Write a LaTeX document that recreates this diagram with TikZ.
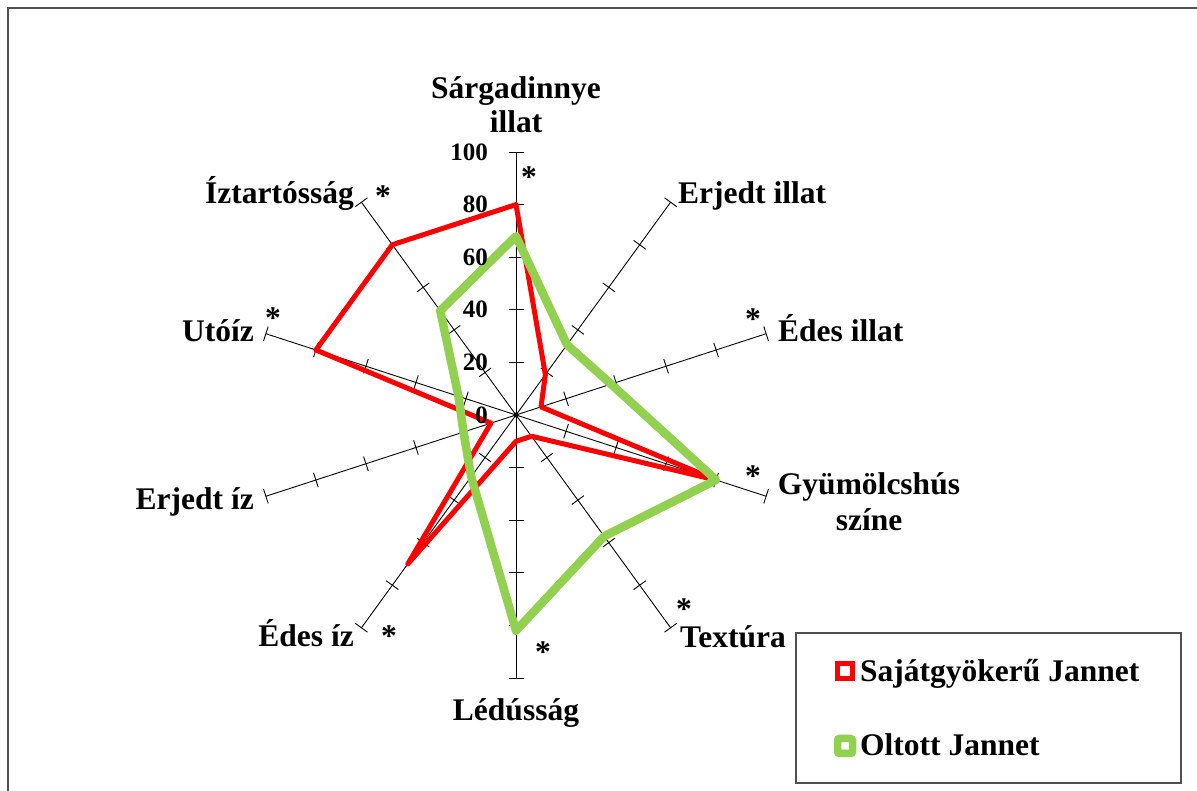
\documentclass[tikz,border=0pt]{standalone}
\usepackage{fontspec}
\setmainfont{Liberation Serif}
\definecolor{serA}{RGB}{255,0,0}
\definecolor{serB}{RGB}{146,208,80}
\definecolor{frameGray}{RGB}{80,80,80}
\begin{document}
\begin{tikzpicture}[x=1pt,y=1pt,
  axisline/.style={line width=0.9pt, black},
  tck/.style={line width=0.9pt, black},
  lbl/.style={font=\fontsize{31.5}{36}\selectfont\bfseries, inner sep=0pt},
  num/.style={font=\fontsize{25}{28}\selectfont\bfseries, inner sep=0pt, anchor=east},
  star/.style={font=\fontsize{31.5}{36}\selectfont\bfseries, inner sep=0pt, anchor=base},
  serieA/.style={serA, line width=5pt, line join=round},
  serieB/.style={serB, line width=8.5pt, line join=round},
]
\useasboundingbox (0,0) rectangle (1197,791);
\fill[white] (0,0) rectangle (1197,791);
\draw[line width=2pt, frameGray] (8,0) -- (8,782.5) -- (1197,782.5);
\coordinate (O) at (516,376);
\begin{scope}[shift={(O)}]
  % axes with ticks
  \foreach \a in {90,54,18,-18,-54,-90,-126,-162,162,126} {
    \draw[axisline] (0,0) -- (\a:263);
    \foreach \t in {1,...,5} {
      \draw[tck, rotate=\a] (\t*52.6,-7.5) -- (\t*52.6,7.5);
    }
  }
  % data points
  \foreach \a/\v [count=\i] in {90/80,54/19,18/10,-18/80,-54/10,-90/10,-126/70,-162/10,162/80,126/80} {
    \coordinate (r\i) at (\a:\v*2.63);
  }
  \foreach \a/\v [count=\i] in {90/68,54/33,18/38,-18/80,-54/57,-90/82,-126/29,-162/21,162/23,126/49} {
    \coordinate (g\i) at (\a:\v*2.63);
  }
  \draw[serieA] (r1) -- (r2) -- (r3) -- (r4) -- (r5) -- (r6) -- (r7) -- (r8) -- (r9) -- (r10) -- cycle;
  \draw[serieB] (g1) -- (g2) -- (g3) -- (g4) -- (g5) -- (g6) -- (g7) -- (g8) -- (g9) -- (g10) -- cycle;
  \fill (0,0) circle (2.5);
\end{scope}
% value labels
\node[num] (v0) at (488,376) {0};
\node[num] (v20) at (488,428.6) {20};
\node[num] (v40) at (488,481.2) {40};
\node[num] (v60) at (488,533.8) {60};
\node[num] (v80) at (488,586.4) {80};
\node[num] (v100) at (488,639) {100};
% axis labels
\node[lbl, anchor=base] (l1a) at (516,692) {Sárgadinnye};
\node[lbl, anchor=base] (l1b) at (516,658) {illat};
\node[lbl, anchor=base west] (l2) at (678,587) {Erjedt illat};
\node[lbl, anchor=base west] (l3) at (778,449) {Édes illat};
\node[lbl, anchor=base] (l4a) at (869,296) {Gyümölcshús};
\node[lbl, anchor=base] (l4b) at (869,260) {színe};
\node[lbl, anchor=base west] (l5) at (680,143) {Textúra};
\node[lbl, anchor=base] (l6) at (516,70) {Lédússág};
\node[lbl, anchor=base east] (l7) at (354,144) {Édes íz};
\node[lbl, anchor=base east] (l8) at (254,281) {Erjedt íz};
\node[lbl, anchor=base east] (l9) at (254,449) {Utóíz};
\node[lbl, anchor=base east] (l10) at (354,587) {Íztartósság};
% significance stars
\node[star] (s1) at (529,603) {*};
\node[star] (s3) at (753,461) {*};
\node[star] (s4) at (753,304) {*};
\node[star] (s5) at (684,171) {*};
\node[star] (s6) at (543,128) {*};
\node[star] (s7) at (389,144) {*};
\node[star] (s9) at (273,462) {*};
\node[star] (s10) at (383,584) {*};
% legend
\draw[line width=1.5pt, frameGray] (796,8) rectangle (1181,158);
\draw[serA, line width=5pt] (837.5,112) rectangle (852.5,127);
\draw[serB, line width=7.5pt, rounded corners=2pt] (837.5,37.5) rectangle (852.5,52.5);
\node[lbl, anchor=base west] (leg1) at (860,109) {Sajátgyökerű Jannet};
\node[lbl, anchor=base west] (leg2) at (860,35) {Oltott Jannet};
\end{tikzpicture}
\end{document}
